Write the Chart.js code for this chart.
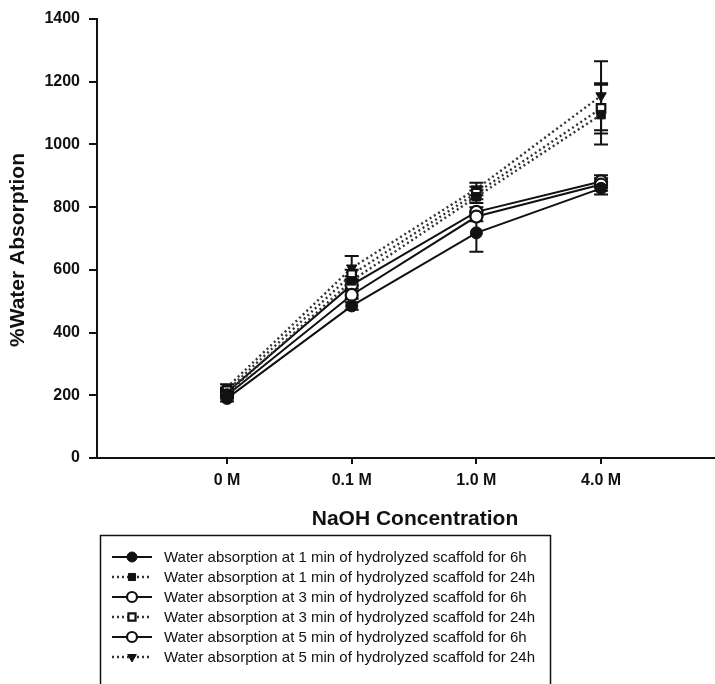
<!DOCTYPE html>
<html>
<head>
<meta charset="utf-8">
<script src="https://cdn.jsdelivr.net/npm/chart.js@4.4.1/dist/chart.umd.min.js"></script>
<style>
  html, body { margin:0; padding:0; background:#fff; overflow:hidden; }
  #wrap { width:715px; height:684px; }
  canvas { display:block; }
</style>
</head>
<body>
<div id="wrap"><canvas id="waterChart" width="715" height="684"></canvas></div>
<script>
const concLabels = ['0 M', '0.1 M', '1.0 M', '4.0 M'];
const yTicks = [0, 200, 400, 600, 800, 1000, 1200, 1400];

const min1h6 = [190, 485, 718, 860];
const min1h24 = [205, 565, 833, 1095];
const min3h6 = [200, 520, 770, 872];
const min3h24 = [215, 585, 845, 1115];
const min5h6 = [210, 552, 785, 882];
const min5h24 = [225, 606, 858, 1155];

const err1h6 = [10, 12, 60, 20];
const err1h24 = [10, 15, 20, 95];
const err3h6 = [10, 12, 15, 20];
const err3h24 = [10, 15, 20, 80];
const err5h6 = [10, 12, 15, 20];
const err5h24 = [10, 38, 20, 110];

const seriesNames = [
    'Water absorption at 1 min of hydrolyzed scaffold for 6h',
    'Water absorption at 1 min of hydrolyzed scaffold for 24h',
    'Water absorption at 3 min of hydrolyzed scaffold for 6h',
    'Water absorption at 3 min of hydrolyzed scaffold for 24h',
    'Water absorption at 5 min of hydrolyzed scaffold for 6h',
    'Water absorption at 5 min of hydrolyzed scaffold for 24h'
];

const FONT = '"Liberation Sans", Arial, sans-serif';
const INK = '#111';

function makeSet(i, vals, errs, dotted, style, filled, rot) {
    return {
        label: seriesNames[i],
        data: vals.map((v, k) => ({ x: k, y: v })),
        errors: errs,
        borderColor: dotted ? '#333' : INK,
        borderWidth: dotted ? 2.4 : 2,
        borderDash: dotted ? [2, 3] : [],
        pointStyle: style,
        pointRotation: rot || 0,
        pointRadius: 6,
        pointBorderWidth: filled ? 1 : 2.2,
        pointBorderColor: INK,
        pointBackgroundColor: filled ? INK : '#fff',
        tension: 0,
        fill: false
    };
}

// error bars, drawn under the markers
const errorBars = {
    id: 'errorBars',
    beforeDatasetsDraw(chart) {
        const ctx = chart.ctx, xs = chart.scales.x, ys = chart.scales.y;
        ctx.save();
        ctx.strokeStyle = INK; ctx.lineWidth = 2;
        chart.data.datasets.forEach(ds => {
            ds.data.forEach((p, k) => {
                const e = ds.errors[k];
                const x = xs.getPixelForValue(p.x);
                const t = ys.getPixelForValue(p.y + e), b = ys.getPixelForValue(p.y - e);
                ctx.beginPath();
                ctx.moveTo(x, t); ctx.lineTo(x, b);
                ctx.moveTo(x - 7, t); ctx.lineTo(x + 7, t);
                ctx.moveTo(x - 7, b); ctx.lineTo(x + 7, b);
                ctx.stroke();
            });
        });
        ctx.restore();
    }
};

// axis titles + boxed legend
const extras = {
    id: 'extras',
    afterDraw(chart) {
        const ctx = chart.ctx;
        ctx.save();
        ctx.fillStyle = INK;
        ctx.textAlign = 'center'; ctx.textBaseline = 'middle';
        ctx.font = 'bold 21px ' + FONT;
        ctx.fillText('NaOH Concentration', 415, 519);
        ctx.save();
        ctx.translate(18, 250); ctx.rotate(-Math.PI / 2);
        ctx.font = 'bold 21px ' + FONT;
        ctx.fillText('%Water Absorption', 0, 0);
        ctx.restore();

        ctx.strokeStyle = INK; ctx.lineWidth = 1.5;
        ctx.strokeRect(100.5, 535.5, 450, 160);

        const rowY = 557, rowH = 20;
        chart.data.datasets.forEach((ds, i) => {
            const y = rowY + i * rowH;
            ctx.save();
            ctx.strokeStyle = ds.borderColor; ctx.lineWidth = ds.borderWidth;
            ctx.setLineDash(ds.borderDash);
            ctx.beginPath(); ctx.moveTo(112, y); ctx.lineTo(152, y); ctx.stroke();
            ctx.setLineDash([]);
            ctx.fillStyle = ds.pointBackgroundColor; ctx.strokeStyle = ds.pointBorderColor;
            ctx.lineWidth = ds.pointBorderWidth;
            Chart.helpers.drawPoint(ctx, { pointStyle: ds.pointStyle, rotation: ds.pointRotation, radius: 5, borderWidth: ds.pointBorderWidth }, 132, y);
            ctx.restore();
            ctx.fillStyle = INK; ctx.textAlign = 'left';
            ctx.font = '15px ' + FONT;
            ctx.fillText(ds.label, 164, y + 1);
        });
        ctx.restore();
    }
};

const bgWhite = {
    id: 'bgWhite',
    beforeDraw(chart) {
        const ctx = chart.ctx;
        ctx.save(); ctx.fillStyle = '#fff'; ctx.fillRect(0, 0, chart.width, chart.height); ctx.restore();
    }
};

new Chart(document.getElementById('waterChart'), {
    type: 'line',
    data: {
        datasets: [
            makeSet(0, min1h6, err1h6, false, 'circle', true),
            makeSet(1, min1h24, err1h24, true, 'rect', true),
            makeSet(2, min3h6, err3h6, false, 'circle', false),
            makeSet(3, min3h24, err3h24, true, 'rect', false),
            makeSet(4, min5h6, err5h6, false, 'circle', false),
            makeSet(5, min5h24, err5h24, true, 'triangle', true, 180)
        ]
    },
    options: {
        responsive: false,
        animation: false,
        devicePixelRatio: 1,
        layout: { autoPadding: false, padding: { top: 19, right: 0, left: 0, bottom: 0 } },
        plugins: { legend: { display: false }, tooltip: { enabled: false } },
        scales: {
            x: {
                type: 'linear',
                min: -1.043, max: 3.914,
                afterBuildTicks: s => { s.ticks = concLabels.map((l, k) => ({ value: k })); },
                afterFit: s => { s.height = 226; s.paddingLeft = 0; s.paddingRight = 0; },
                grid: { drawOnChartArea: false, color: INK, tickLength: 6, lineWidth: 2 },
                border: { color: INK, width: 2 },
                ticks: {
                    padding: 7, color: INK, maxRotation: 0,
                    font: { family: FONT, size: 16, weight: 'bold' },
                    callback: v => concLabels[v]
                }
            },
            y: {
                min: 0, max: 1400,
                afterBuildTicks: s => { s.ticks = yTicks.map(v => ({ value: v })); },
                afterFit: s => { s.width = 97; },
                grid: { drawOnChartArea: false, color: INK, tickLength: 8, lineWidth: 2 },
                border: { color: INK, width: 2 },
                ticks: {
                    padding: 9, color: INK,
                    font: { family: FONT, size: 16, weight: 'bold' },
                    callback: v => String(v)
                }
            }
        }
    },
    plugins: [bgWhite, errorBars, extras]
});
</script>
</body>
</html>
